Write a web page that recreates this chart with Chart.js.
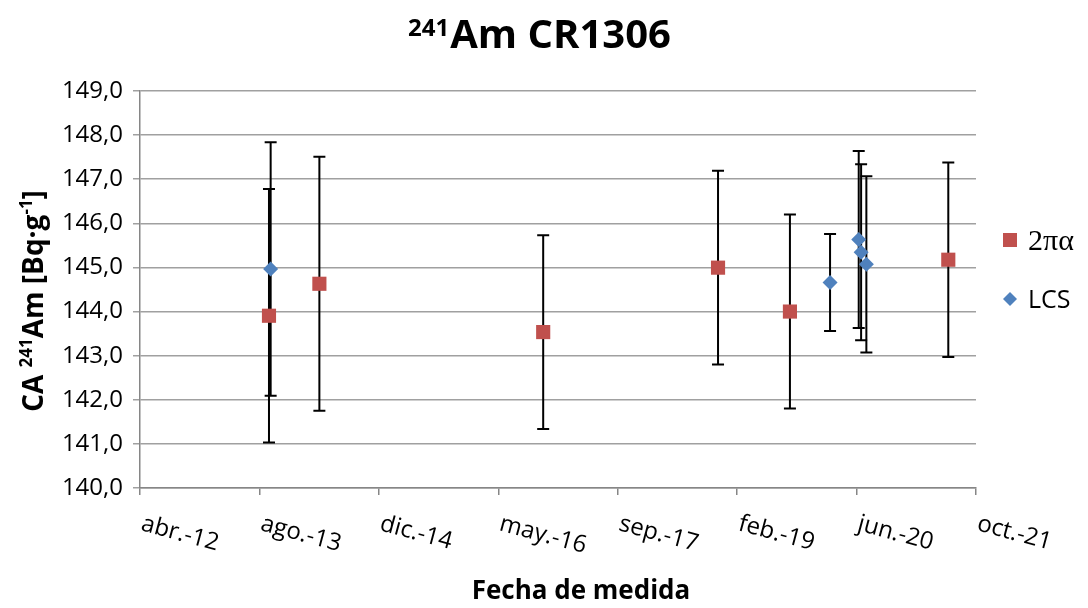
<!DOCTYPE html>
<html>
<head>
<meta charset="utf-8">
<script src="https://cdn.jsdelivr.net/npm/chart.js@4.4.0/dist/chart.umd.min.js"></script>
<style>
  body { margin: 0; background: #fff; }
  #wrap { width: 1088px; height: 608px; }
</style>
</head>
<body>
<div id="wrap"><canvas id="myChart" width="1088" height="608"></canvas></div>
<script>
// 2πα series
let dates2pa = ['2013-09-23', '2014-04-22', '2016-11-14', '2018-11-16', '2019-09-13', '2021-07-07']
let vals2pa = [143.905, 144.63, 143.535, 144.995, 144.00, 145.175]
let unc2pa = [2.875, 2.88, 2.195, 2.195, 2.20, 2.205]

// LCS series
let datesLCS = ['2013-09-30', '2020-02-28', '2020-06-27', '2020-07-07', '2020-07-29']
let valsLCS = [144.965, 144.66, 145.635, 145.345, 145.07]
let uncLCS = [2.875, 1.10, 2.005, 1.995, 2.0]

// axis: excel serial days, 500 day step
let xMin = 41000
let xMax = 44500
let xStep = 500
let xTickLabels = ['abr.-12', 'ago.-13', 'dic.-14', 'may.-16', 'sep.-17', 'feb.-19', 'jun.-20', 'oct.-21']
let yMin = 140
let yMax = 149

const red = '#C0504D'
const blue = '#4F81BD'
const sans = '"Open Sans", "DejaVu Sans", sans-serif'

function toSerial(s) {
    let p = s.split('-')
    return Date.UTC(+p[0], +p[1] - 1, +p[2]) / 86400000 + 25569
}

function points(dates, vals, unc) {
    let pts = []
    for (let i = 0; i < dates.length; i++) {
        pts.push({ x: toSerial(dates[i]), y: vals[i], u: unc[i] })
    }
    return pts
}

// error bars under the markers
const errorBars = {
    id: 'errorBars',
    beforeDatasetsDraw(chart) {
        const ctx = chart.ctx
        const ys = chart.scales.y
        ctx.save()
        ctx.strokeStyle = '#000'
        ctx.lineWidth = 2
        chart.data.datasets.forEach((ds, i) => {
            const meta = chart.getDatasetMeta(i)
            meta.data.forEach((el, j) => {
                const d = ds.data[j]
                const x = el.x
                const top = ys.getPixelForValue(d.y + d.u)
                const bot = ys.getPixelForValue(d.y - d.u)
                ctx.beginPath()
                ctx.moveTo(x, top); ctx.lineTo(x, bot)
                ctx.moveTo(x - 6, top); ctx.lineTo(x + 6, top)
                ctx.moveTo(x - 6, bot); ctx.lineTo(x + 6, bot)
                ctx.stroke()
            })
        })
        ctx.restore()
    }
}

// titles, rotated x tick labels and legend
const texts = {
    id: 'texts',
    afterDraw(chart) {
        const ctx = chart.ctx
        ctx.save()
        ctx.fillStyle = '#000'
        ctx.textBaseline = 'alphabetic'

        // title with superscript
        ctx.font = 'bold 24px ' + sans
        let wSup = ctx.measureText('241').width
        ctx.font = 'bold 40px ' + sans
        let wMain = ctx.measureText('Am CR1306').width
        let tx = 539 - (wSup + wMain) / 2
        ctx.textAlign = 'left'
        ctx.font = 'bold 24px ' + sans
        ctx.fillText('241', tx, 36)
        ctx.font = 'bold 40px ' + sans
        ctx.fillText('Am CR1306', tx + wSup + 1, 48)

        // x axis title
        ctx.font = 'bold 26px ' + sans
        ctx.textAlign = 'center'
        ctx.fillText('Fecha de medida', 581, 599)

        // y axis title, rotated, with superscripts
        const parts = [
            ['CA ', 28, 0], ['241', 17, -11], ['Am [Bq·g', 28, 0], ['-1', 17, -11], [']', 28, 0]
        ]
        let total = 0
        parts.forEach(p => { ctx.font = 'bold ' + p[1] + 'px ' + sans; p.push(ctx.measureText(p[0]).width); total += p[3] })
        ctx.save()
        ctx.translate(43, 301)
        ctx.rotate(-Math.PI / 2)
        ctx.textAlign = 'left'
        let px = -total / 2
        parts.forEach(p => {
            ctx.font = 'bold ' + p[1] + 'px ' + sans
            ctx.fillText(p[0], px, p[2])
            px += p[3]
        })
        ctx.restore()

        // x tick labels, tilted
        const xs = chart.scales.x
        ctx.font = '24px ' + sans
        ctx.textAlign = 'left'
        xs.ticks.forEach((t, i) => {
            const x = xs.getPixelForValue(t.value)
            ctx.save()
            ctx.translate(x, 530)
            ctx.rotate(15 * Math.PI / 180)
            ctx.fillText(xTickLabels[i] || '', 0, 0)
            ctx.restore()
        })

        // legend
        ctx.fillStyle = red
        ctx.fillRect(1003, 233, 14, 14)
        ctx.fillStyle = blue
        ctx.beginPath()
        ctx.moveTo(1010, 292); ctx.lineTo(1017, 299); ctx.lineTo(1010, 306); ctx.lineTo(1003, 299)
        ctx.closePath()
        ctx.fill()
        ctx.fillStyle = '#000'
        ctx.font = '30px "Liberation Serif", serif'
        ctx.fillText('2πα', 1028, 250)
        ctx.font = '25px ' + sans
        ctx.fillText('LCS', 1028, 308)
        ctx.restore()
    }
}

const ctx1 = document.getElementById('myChart').getContext('2d')
const myChart = new Chart(ctx1, {
    type: 'scatter',
    data: {
        datasets: [{
            label: '2πα',
            data: points(dates2pa, vals2pa, unc2pa),
            pointStyle: 'rect',
            pointRadius: 10,
            pointHoverRadius: 10,
            backgroundColor: red,
            borderColor: red,
            borderWidth: 0
        }, {
            label: 'LCS',
            data: points(datesLCS, valsLCS, uncLCS),
            pointStyle: 'rectRot',
            pointRadius: 7.5,
            pointHoverRadius: 7.5,
            backgroundColor: blue,
            borderColor: blue,
            borderWidth: 0
        }]
    },
    options: {
        responsive: false,
        devicePixelRatio: 1,
        animation: false,
        layout: { padding: { top: 91, right: 112, left: 0, bottom: 0 } },
        plugins: {
            legend: { display: false },
            tooltip: { enabled: false }
        },
        scales: {
            x: {
                type: 'linear',
                min: xMin,
                max: xMax,
                afterFit(scale) { scale.height = 120 },
                ticks: { stepSize: xStep, display: false },
                grid: { drawOnChartArea: false, drawTicks: true, tickLength: 7, color: '#868686', lineWidth: 1.5 },
                border: { color: '#868686', width: 1.5 }
            },
            y: {
                min: yMin,
                max: yMax,
                afterFit(scale) { scale.width = 140 },
                ticks: {
                    stepSize: 1,
                    padding: 10,
                    color: '#000',
                    font: { family: sans, size: 24 },
                    callback: v => v.toFixed(1).replace('.', ',')
                },
                grid: { color: '#a0a0a0', lineWidth: 1.5, tickLength: 7 },
                border: { color: '#868686', width: 1.5 }
            }
        }
    },
    plugins: [errorBars, texts]
})
</script>
</body>
</html>
